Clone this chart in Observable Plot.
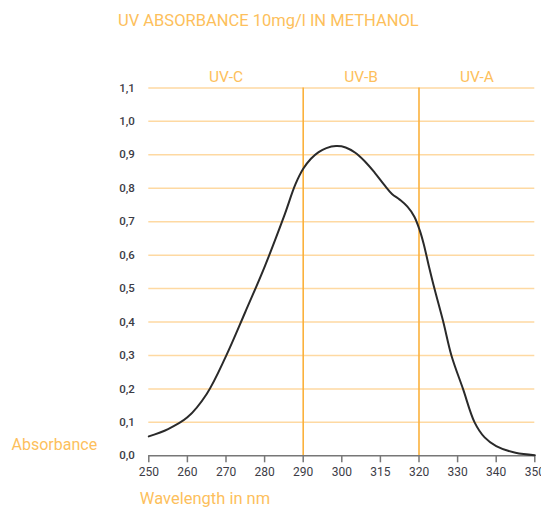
<!DOCTYPE html>
<html><head><meta charset="utf-8">
<script src="https://cdn.jsdelivr.net/npm/d3@7"></script>
<script src="https://cdn.jsdelivr.net/npm/@observablehq/plot@0.6"></script>
<style>
body{margin:0;background:#fff;font-family:Roboto,sans-serif;}
#title{height:28.6px;padding:11.4px 0 0 118px;font-size:16.5px;line-height:19.4px;color:#fdbf5c;white-space:nowrap;}
#chart svg{overflow:visible;}
</style></head><body>
<div id="title">UV ABSORBANCE 10mg/l IN METHANOL</div>
<div id="chart"></div>
<script>
const wavelength = [250, 255, 260, 265, 270, 275, 280, 285, 288, 290, 292, 294, 296, 298.5, 301, 303.5, 306, 308.5, 311, 313, 315, 317, 318.8, 320.2, 321.2, 322.5, 324, 326.3, 328.4, 331.4, 334.4, 337, 340, 345, 350];
const absorbance = [0.058, 0.080, 0.115, 0.185, 0.298, 0.430, 0.565, 0.715, 0.812, 0.858, 0.888, 0.908, 0.920, 0.926, 0.922, 0.906, 0.880, 0.847, 0.810, 0.783, 0.766, 0.745, 0.715, 0.674, 0.634, 0.570, 0.500, 0.400, 0.300, 0.200, 0.100, 0.055, 0.029, 0.009, 0.002];
const xTicks = [250, 260, 270, 280, 290, 300, 310, 320, 330, 340, 350];
const xTickLabels = ["250", "260", "270", "280", "290", "300", "315", "320", "330", "340", "350"];
const yTicks = [0, 0.1, 0.2, 0.3, 0.4, 0.5, 0.6, 0.7, 0.8, 0.9, 1.0, 1.1];
const bandNames = ["UV-C", "UV-B", "UV-A"];
const bandStart = [250, 290, 320];
const bandEnd = [290, 320, 350];

const orange = "#fdbf5c";
const data = wavelength.map((w, i) => ({w, a: absorbance[i]}));

const chart = Plot.plot({
  width: 541,
  height: 473,
  marginTop: 47.4,
  marginBottom: 57.7,
  marginLeft: 148.3,
  marginRight: 6.7,
  style: {fontFamily: "Roboto, sans-serif", background: "transparent"},
  x: {domain: [250, 350], axis: null},
  y: {domain: [0, 1.1], axis: null},
  marks: [
    Plot.ruleY(yTicks.filter(d => d > 0), {stroke: "#fed9a2", strokeWidth: 1.5}),
    Plot.ruleX(bandStart.slice(1), {y1: 0, y2: 1.1, stroke: "#fbb13c", strokeWidth: 1.6}),
    Plot.ruleY([0], {stroke: "#777", strokeWidth: 1.5}),
    Plot.axisX({ticks: xTicks, tickFormat: d => xTickLabels[xTicks.indexOf(d)], tickSize: 7, tickPadding: 5, stroke: "#777", strokeWidth: 1.5, fill: "#3c3c46", fontSize: 12, label: null}),
    Plot.axisY({ticks: yTicks, tickFormat: d => d.toFixed(1).replace(".", ","), tickSize: 0, tickPadding: 14, fill: "#3c3c46", fontSize: 11.5, fontWeight: 500, label: null}),
    Plot.text(bandNames, {x: (d, i) => (bandStart[i] + bandEnd[i]) / 2, text: d => d, frameAnchor: "top", dy: -17.4, fill: orange, fontSize: 15.5}),
    Plot.text(["Absorbance"], {frameAnchor: "bottom-left", textAnchor: "start", dx: -137.3, dy: -6.1, fill: orange, fontSize: 16}),
    Plot.text(["Wavelength in nm"], {frameAnchor: "bottom-left", textAnchor: "start", dx: -9, dy: 48.1, fill: orange, fontSize: 16.5}),
    Plot.line(data, {x: "w", y: "a", curve: "catmull-rom", stroke: "#2a2a2a", strokeWidth: 2})
  ]
});
document.getElementById("chart").appendChild(chart);
</script>
</body></html>
